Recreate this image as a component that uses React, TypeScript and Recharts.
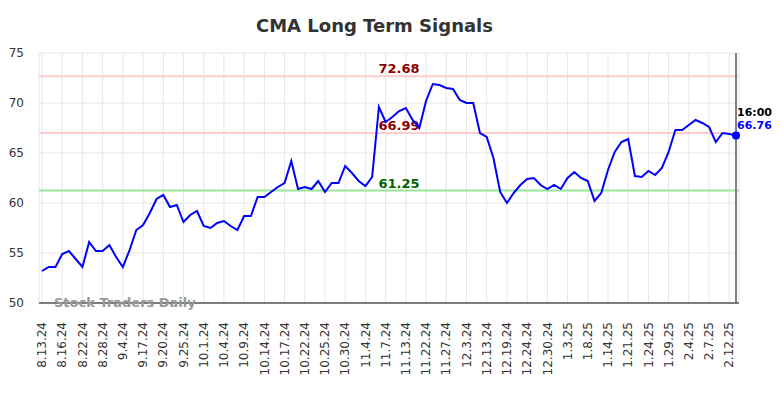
import React from 'react';
import { LineChart, Line, XAxis, YAxis, CartesianGrid, ReferenceLine } from 'recharts';

const tickLabels = [
  '8.13.24', '8.16.24', '8.22.24', '8.28.24', '9.4.24', '9.17.24', '9.20.24', '9.25.24',
  '10.1.24', '10.4.24', '10.9.24', '10.14.24', '10.17.24', '10.22.24', '10.25.24', '10.30.24',
  '11.4.24', '11.7.24', '11.13.24', '11.22.24', '11.27.24',
  '12.3.24', '12.13.24', '12.19.24', '12.24.24', '12.30.24',
  '1.3.25', '1.8.25', '1.14.25', '1.21.25', '1.24.25', '1.29.25',
  '2.4.25', '2.7.25', '2.12.25',
];

const prices = [
  53.2, 53.6, 53.6, 54.9, 55.2, 54.4, 53.6, 56.1, 55.2, 55.2,
  55.8, 54.6, 53.6, 55.3, 57.3, 57.8, 59.0, 60.4, 60.8, 59.6,
  59.8, 58.1, 58.8, 59.2, 57.7, 57.5, 58.0, 58.2, 57.7, 57.3,
  58.7, 58.7, 60.6, 60.6, 61.1, 61.6, 62.0, 64.2, 61.4, 61.6,
  61.4, 62.2, 61.1, 62.0, 62.0, 63.7, 63.0, 62.2, 61.7, 62.6,
  69.6, 68.1, 68.6, 69.2, 69.5, 68.3, 67.5, 70.2, 71.9, 71.8,
  71.5, 71.4, 70.3, 70.0, 70.0, 67.0, 66.6, 64.5, 61.1, 60.0,
  61.0, 61.8, 62.4, 62.5, 61.8, 61.4, 61.8, 61.4, 62.5, 63.1,
  62.5, 62.2, 60.2, 61.0, 63.3, 65.1, 66.1, 66.4, 62.7, 62.6,
  63.2, 62.8, 63.5, 65.1, 67.3, 67.3, 67.8, 68.3, 68.0, 67.6,
  66.1, 67.0, 66.9, 66.76,
];

const yTicks = [50, 55, 60, 65, 70, 75];
const upperSignal = 72.68;
const midSignal = 66.99;
const lowerSignal = 61.25;
const lastTime = '16:00';
const title = 'CMA Long Term Signals';
const watermark = 'Stock Traders Daily';

const TICK_STEP = 3;
const data = prices.map((v, i) => ({ i, v }));
const lastIndex = prices.length - 1;
const xTicks = tickLabels.map((_, k) => k * TICK_STEP);

const FONT = '"DejaVu Sans", sans-serif';

const XTick = (props: any) => {
  const { x, y, payload } = props;
  const label = tickLabels[Math.round(payload.value / TICK_STEP)] ?? '';
  return (
    <g transform={`translate(${x},${y})`}>
      <text
        transform="rotate(-90)"
        x={0}
        y={0}
        dy="0.35em"
        textAnchor="end"
        fill="#333"
        fontSize={12}
        fontFamily={FONT}
      >
        {label}
      </text>
    </g>
  );
};

const makeRefLabel = (text: string, color: string) => (props: any) => {
  const vb = props.viewBox || {};
  const cx = vb.x + vb.width / 2 + 10;
  return (
    <text
      x={cx}
      y={vb.y - 3}
      textAnchor="middle"
      fill={color}
      fontSize={13}
      fontWeight="bold"
      fontFamily={FONT}
    >
      {text}
    </text>
  );
};

const LastDot = (props: any) => {
  const { cx, cy, index } = props;
  if (index !== lastIndex) return <g key={`d${index}`} />;
  return (
    <g key={`d${index}`}>
      <circle cx={cx} cy={cy} r={4} fill="#0000ff" />
      <text x={cx + 1} y={cy - 19.5} fill="#000" fontSize={11} fontWeight="bold" fontFamily={FONT}>
        {lastTime}
      </text>
      <text x={cx + 1} y={cy - 6} fill="#0000ff" fontSize={11} fontWeight="bold" fontFamily={FONT}>
        {prices[lastIndex].toFixed(2)}
      </text>
    </g>
  );
};

export default function App() {
  return (
    <div style={{ position: 'absolute', left: 0, top: 0, width: 784, height: 398, background: '#fff' }}>
      <LineChart
        width={784}
        height={398}
        data={data}
        margin={{ top: 53, right: 45, left: 0, bottom: 35 }}
      >
        <CartesianGrid stroke="#e6e6e6" strokeWidth={1} />
        <XAxis
          dataKey="i"
          type="number"
          domain={[0, lastIndex]}
          ticks={xTicks}
          interval={0}
          padding={{ left: 3, right: 3 }}
          height={60}
          tickLine={false}
          tickSize={0}
          tickMargin={19}
          axisLine={{ stroke: '#555', strokeWidth: 1.5 }}
          tick={<XTick />}
        />
        <YAxis
          type="number"
          domain={[50, 75]}
          ticks={yTicks}
          width={39}
          axisLine={false}
          tickLine={false}
          tickSize={6}
          tickMargin={9}
          tick={{ fill: '#333', fontSize: 12, fontFamily: FONT }}
        />
        <ReferenceLine y={upperSignal} stroke="#ffcccc" strokeWidth={2} label={makeRefLabel(upperSignal.toFixed(2), '#8b0000')} />
        <ReferenceLine y={midSignal} stroke="#ffcccc" strokeWidth={2} label={makeRefLabel(midSignal.toFixed(2), '#8b0000')} />
        <ReferenceLine y={lowerSignal} stroke="#99e699" strokeWidth={2} label={makeRefLabel(lowerSignal.toFixed(2), '#006400')} />
        <ReferenceLine x={lastIndex} stroke="#808080" strokeWidth={2} />
        <Line
          type="linear"
          dataKey="v"
          stroke="#0000ff"
          strokeWidth={2}
          dot={LastDot}
          activeDot={false}
          isAnimationActive={false}
        />
      </LineChart>
      <svg
        width={784}
        height={398}
        style={{ position: 'absolute', left: 0, top: 0, pointerEvents: 'none' }}
      >
        <text x={374.5} y={32} textAnchor="middle" fill="#333" fontSize={18} fontWeight="bold" fontFamily={FONT}>
          {title}
        </text>
        <text x={54} y={306.5} fill="#999" fontSize={13} fontWeight="bold" fontFamily={FONT}>
          {watermark}
        </text>
      </svg>
    </div>
  );
}
